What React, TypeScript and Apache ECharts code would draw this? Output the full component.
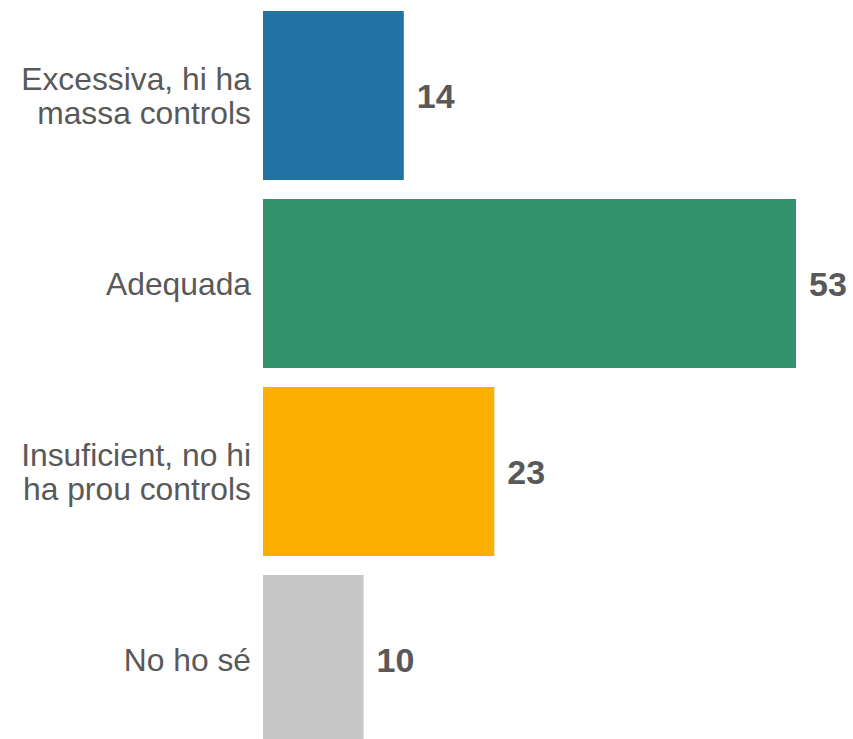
import React, { useEffect, useRef } from "react";
import * as echarts from "echarts";

const categories = [
  "Excessiva, hi ha\nmassa controls",
  "Adequada",
  "Insuficient, no hi\nha prou controls",
  "No ho sé",
];
const values = [14, 53, 23, 10];
const colors = ["#2272a3", "#33936c", "#fbb000", "#c6c6c6"];

const FONT = "'Liberation Sans', Arial, Helvetica, sans-serif";

export default function App() {
  const ref = useRef<HTMLDivElement>(null);
  useEffect(() => {
    if (!ref.current) return;
    const chart = echarts.init(ref.current, undefined, { renderer: "svg" });
    chart.setOption({
      animation: false,
      grid: { left: 263, top: 1.5, width: 533, height: 752, containLabel: false },
      xAxis: {
        type: "value",
        min: 0,
        max: 53,
        show: false,
      },
      yAxis: {
        type: "category",
        data: categories,
        inverse: true,
        axisLine: { show: false },
        axisTick: { show: false },
        splitLine: { show: false },
        axisLabel: {
          fontFamily: FONT,
          fontSize: 31.8,
          lineHeight: 34,
          color: "#595959",
          margin: 12,
          align: "right",
        },
      },
      series: [
        {
          type: "bar",
          barWidth: 169,
          data: values.map((v, i) => ({ value: v, itemStyle: { color: colors[i] } })),
          label: {
            show: true,
            position: "right",
            distance: 13,
            fontFamily: FONT,
            fontSize: 34,
            fontWeight: "bold",
            color: "#595959",
          },
        },
      ],
    });
    return () => chart.dispose();
  }, []);
  return (
    <div
      style={{
        position: "absolute",
        left: 0,
        top: 0,
        width: 853,
        height: 739,
        overflow: "hidden",
      }}
    >
      <div ref={ref} style={{ width: 853, height: 760 }} />
    </div>
  );
}
